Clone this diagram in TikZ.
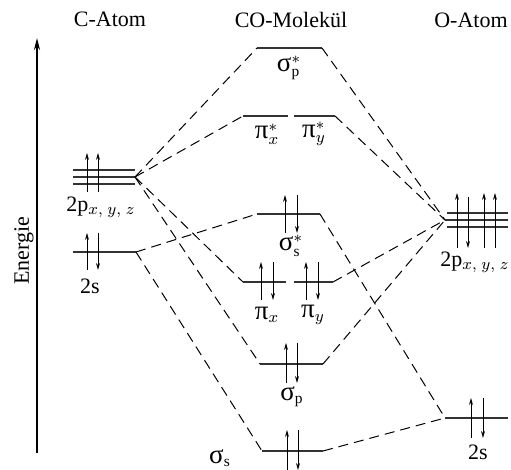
\documentclass[tikz,border=0pt]{standalone}
\usepackage{fontspec}
\setmainfont{Liberation Serif}
\usepackage{amsmath}
\usetikzlibrary{arrows.meta}

\newcommand{\grk}[1]{{\fontsize{13.5}{14}\selectfont #1}}

\begin{document}
\begin{tikzpicture}[x=0.5pt,y=-0.5pt,
  level/.style={line width=1.1pt, black!80},
  link/.style={line width=0.5pt, dash pattern=on 5pt off 3pt},
  spin/.style={line width=0.45pt, -{Stealth[length=3.5pt,width=2pt]}},
  font=\fontsize{11}{13}\selectfont]

\useasboundingbox (0,0) rectangle (511,470);

\node (catom) at (110,19) {C-Atom};
\node (comol) at (291,20) {CO-Molekül};
\node (oatom) at (471,20) {O-Atom};

% energy axis
\coordinate (ebot) at (37,453);
\coordinate (etop) at (37,38);
\draw[line width=1pt, -{Stealth[length=6pt,width=3pt]}] (ebot) -- (etop);
\node[rotate=90] (energie) at (24,251) {Energie};

% C atom
\coordinate (c2pL) at (73,177);
\coordinate (c2pR) at (135,177);
\coordinate (c2sL) at (73,252);
\coordinate (c2sR) at (136,252);
\draw[level] (73,170) -- (135,170);
\draw[level] (c2pL) -- (c2pR);
\draw[level] (73,184) -- (135,184);
\draw[level] (c2sL) -- (c2sR);
\draw[spin] (87,192) -- (87,153);
\draw[spin] (98,192) -- (98,153);
\draw[spin] (87,270) -- (87,233);
\draw[spin] (98,233) -- (98,270);
\node (c2p) at (101,207) {2p$_{x,\;y,\;z}$};
\node (c2s) at (90,286) {2s};

% CO molecule
\coordinate (spaL) at (257,48);
\coordinate (spaR) at (322,48);
\coordinate (piaL) at (243,116);
\coordinate (piaR) at (335,116);
\coordinate (ssaL) at (257,214);
\coordinate (ssaR) at (320,214);
\coordinate (piL) at (243,282);
\coordinate (piR) at (333,282);
\coordinate (spL) at (260,364);
\coordinate (spR) at (323,364);
\coordinate (ssL) at (262,451);
\coordinate (ssR) at (323,451);

\draw[level] (spaL) -- (spaR);
\draw[level] (piaL) -- (288,116);
\draw[level] (294,116) -- (piaR);
\draw[level] (ssaL) -- (ssaR);
\draw[level] (piL) -- (286,282);
\draw[level] (294,282) -- (piR);
\draw[level] (spL) -- (spR);
\draw[level] (ssL) -- (ssR);

\draw[spin] (285,233) -- (285,195);
\draw[spin] (297,195) -- (297,233);
\draw[spin] (261,300) -- (261,262);
\draw[spin] (273,262) -- (273,300);
\draw[spin] (306,300) -- (306,262);
\draw[spin] (318,262) -- (318,300);
\draw[spin] (286,383) -- (286,343);
\draw[spin] (297,343) -- (297,383);
\draw[spin] (287,470) -- (287,430);
\draw[spin] (298,430) -- (298,470);

\node (lspa) at (289,68) {\grk{σ}$^*_{\mathrm{p}}$};
\node (lpiax) at (267,134) {\grk{π}$^*_x$};
\node (lpiay) at (314,134) {\grk{π}$^*_y$};
\node (lssa) at (291,246) {\grk{σ}$^*_{\mathrm{s}}$};
\node (lpix) at (267,315) {\grk{π}$_x$};
\node (lpiy) at (313,315) {\grk{π}$_y$};
\node (lsp) at (292,397) {\grk{σ}$_{\mathrm{p}}$};
\node (lss) at (220,458) {\grk{σ}$_{\mathrm{s}}$};

% O atom
\coordinate (o2pL) at (445,220);
\coordinate (o2pR) at (508,220);
\coordinate (o2sL) at (445,418);
\coordinate (o2sR) at (508,418);
\draw[level] (447,213) -- (508,213);
\draw[level] (o2pL) -- (o2pR);
\draw[level] (447,227) -- (508,227);
\draw[level] (o2sL) -- (o2sR);
\draw[spin] (457,248) -- (457,193);
\draw[spin] (468,197) -- (468,248);
\draw[spin] (484,248) -- (484,193);
\draw[spin] (495,248) -- (495,193);
\draw[spin] (471,438) -- (471,398);
\draw[spin] (483,398) -- (483,438);
\node (o2p) at (475,262) {2p$_{x,\;y,\;z}$};
\node (o2s) at (478,452) {2s};

% correlation lines
\draw[link] (c2pR) -- (spaL);
\draw[link] (c2pR) -- (piaL);
\draw[link] (c2pR) -- (piL);
\draw[link] (c2pR) -- (spL);
\draw[link] (c2sR) -- (ssaL);
\draw[link] (c2sR) -- (ssL);
\draw[link] (spaR) -- (o2pL);
\draw[link] (piaR) -- (o2pL);
\draw[link] (piR) -- (o2pL);
\draw[link] (spR) -- (o2pL);
\draw[link] (ssaR) -- (o2sL);
\draw[link] (ssR) -- (o2sL);

\end{tikzpicture}
\end{document}
